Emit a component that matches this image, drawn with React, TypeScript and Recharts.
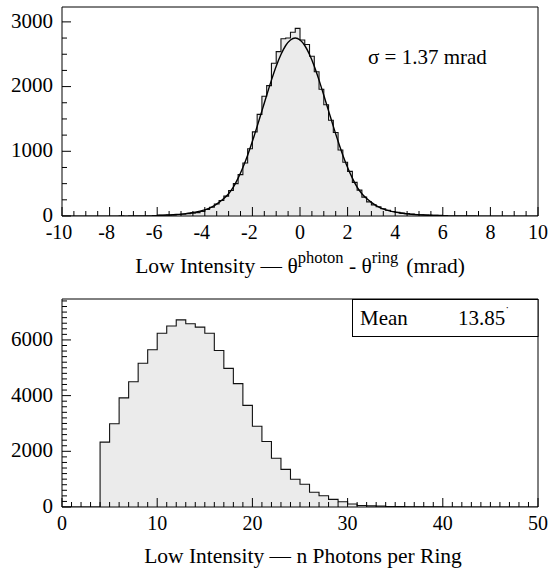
import { Area, ComposedChart, Line, ReferenceArea, XAxis, YAxis } from 'recharts'

const FONT = "'Liberation Serif', 'DejaVu Serif', serif"

// upper panel: theta(photon) - theta(ring), 100 bins of 0.2 mrad from -10
const thetaBinStart = -10
const thetaBinWidth = 0.2
const thetaCounts = [
  0, 0, 0, 0, 0, 0, 0, 0, 1, 0,
  1, 1, 2, 1, 2, 3, 3, 4, 5, 7,
  9, 12, 13, 18, 24, 28, 36, 45, 52, 70,
  100, 135, 185, 240, 307, 395, 500, 640, 820, 1040,
  1300, 1570, 1850, 2015, 2360, 2540, 2740, 2750, 2840, 2900,
  2720, 2650, 2470, 2230, 1960, 1720, 1480, 1290, 1020, 830,
  690, 520, 400, 292, 218, 172, 142, 111, 88, 70,
  56, 45, 36, 30, 24, 20, 16, 12, 10, 8,
  7, 5, 4, 4, 3, 2, 2, 1, 1, 1,
  1, 0, 1, 0, 0, 0, 0, 0, 0, 0,
]

// fitted curve, read every 0.2 mrad from -6 to 6
const fitStart = -6
const fitStep = 0.2
const fitValues = [
  10, 12, 15, 18, 23, 29, 37, 47, 59, 75,
  95, 122, 160, 210, 270, 345, 445, 585, 750, 940,
  1155, 1385, 1625, 1865, 2100, 2315, 2495, 2635, 2720, 2750,
  2720, 2635, 2495, 2315, 2100, 1865, 1625, 1385, 1155, 940,
  750, 585, 445, 345, 270, 210, 160, 122, 95, 75,
  59, 47, 37, 29, 23, 18, 15, 12, 10, 8,
  7,
]

const thetaTickLabels = [-10, -8, -6, -4, -2, 0, 2, 4, 6, 8, 10]
const thetaMinorStep = 0.5
const thetaCountLabels = [0, 1000, 2000, 3000]
const thetaCountMinorStep = 250
const thetaCountMax = 3230

// lower panel: photons per ring, bins of 1 from 0
const photonBinStart = 0
const photonBinWidth = 1
const photonCounts = [
  0, 0, 0, 0, 2330, 2990, 3920, 4500, 5160, 5650,
  6240, 6500, 6720, 6580, 6460, 6240, 5620, 4980, 4430, 3650,
  2900, 2350, 1750, 1350, 995, 815, 530, 405, 275, 190,
  110, 55, 40, 30, 20, 12, 8, 6, 4, 3,
  2, 2, 1, 1, 0, 0, 0, 0, 0, 0,
]

const photonTickLabels = [0, 10, 20, 30, 40, 50]
const photonMinorStep = 1
const photonCountLabels = [0, 2000, 4000, 6000]
const photonCountMinorStep = 200
const photonCountMax = 7470

const sigmaText = 'σ = 1.37 mrad'
const meanLabel = 'Mean'
const meanValue = '13.85'

const r2 = (v: number) => Math.round(v * 100) / 100

function range(from: number, to: number, step: number) {
  const out: number[] = []
  const n = Math.round((to - from) / step)
  for (let i = 0; i <= n; i++) out.push(r2(from + i * step))
  return out
}

const thetaRows = thetaCounts.concat([thetaCounts[thetaCounts.length - 1]]).map((c, i) => {
  const x = r2(thetaBinStart + i * thetaBinWidth)
  const j = Math.round((x - fitStart) / fitStep)
  const onFit = j >= 0 && j < fitValues.length && Math.abs(fitStart + j * fitStep - x) < 1e-6
  return { x, hist: c, fit: onFit ? fitValues[j] : undefined }
})

const photonRows = photonCounts.concat([photonCounts[photonCounts.length - 1]]).map((c, i) => ({
  x: r2(photonBinStart + i * photonBinWidth),
  hist: c,
}))

const X_MARGIN = 8
const Y_MARGIN = 9
const textStyle = { fontFamily: FONT }

function XTick(props: any) {
  const { x, y, payload, labels } = props
  const v = payload.value
  const major = labels.includes(v)
  const axisY = y - X_MARGIN
  return (
    <g>
      <line x1={x} x2={x} y1={axisY} y2={axisY - (major ? 9 : 5)} stroke="#000" strokeWidth={1} />
      {major && (
        <text x={x + (v < 0 ? -3 : 0)} y={axisY + 23} textAnchor="middle" fontSize={20} style={textStyle} fill="#000">
          {v}
        </text>
      )}
    </g>
  )
}

function YTick(props: any) {
  const { x, y, payload, labels } = props
  const v = payload.value
  const major = labels.includes(v)
  const axisX = x + Y_MARGIN
  return (
    <g>
      <line x1={axisX} x2={axisX + (major ? 9 : 5)} y1={y} y2={y} stroke="#000" strokeWidth={1} />
      {major && (
        <text x={axisX - 9} y={y} dy="0.28em" textAnchor="end" fontSize={21} style={textStyle} fill="#000">
          {v}
        </text>
      )}
    </g>
  )
}

export default function App() {
  return (
    <div style={{ position: 'absolute', left: 0, top: 0, width: 549, height: 570, background: '#fff', fontFamily: FONT }}>
      <ComposedChart width={549} height={285} data={thetaRows} margin={{ top: 7, right: 11, bottom: 0, left: 12 }}>
        <XAxis
          type="number"
          dataKey="x"
          domain={[-10, 10]}
          ticks={range(-10, 10, thetaMinorStep)}
          interval={0}
          axisLine={false}
          tickLine={false}
          tickSize={0}
          tickMargin={X_MARGIN}
          height={69}
          allowDataOverflow
          tick={(p: any) => <XTick {...p} labels={thetaTickLabels} />}
        />
        <YAxis
          type="number"
          domain={[0, thetaCountMax]}
          ticks={range(0, 3000, thetaCountMinorStep)}
          interval={0}
          axisLine={false}
          tickLine={false}
          tickSize={0}
          tickMargin={Y_MARGIN}
          width={50}
          allowDataOverflow
          tick={(p: any) => <YTick {...p} labels={thetaCountLabels} />}
        />
        <Area type="stepAfter" dataKey="hist" fill="#ebebeb" fillOpacity={1} stroke="#111" strokeWidth={1.1} dot={false} activeDot={false} isAnimationActive={false} />
        <Line type="monotone" dataKey="fit" stroke="#000" strokeWidth={1.4} dot={false} activeDot={false} isAnimationActive={false} />
        <ReferenceArea x1={-10} x2={10} y1={0} y2={thetaCountMax} fill="none" stroke="#000" strokeWidth={1} />
      </ComposedChart>

      <ComposedChart width={549} height={285} data={photonRows} margin={{ top: 14, right: 11, bottom: 0, left: 12 }}>
        <XAxis
          type="number"
          dataKey="x"
          domain={[0, 50]}
          ticks={range(0, 50, photonMinorStep)}
          interval={0}
          axisLine={false}
          tickLine={false}
          tickSize={0}
          tickMargin={X_MARGIN}
          height={63}
          allowDataOverflow
          tick={(p: any) => <XTick {...p} labels={photonTickLabels} />}
        />
        <YAxis
          type="number"
          domain={[0, photonCountMax]}
          ticks={range(0, 7400, photonCountMinorStep)}
          interval={0}
          axisLine={false}
          tickLine={false}
          tickSize={0}
          tickMargin={Y_MARGIN}
          width={50}
          allowDataOverflow
          tick={(p: any) => <YTick {...p} labels={photonCountLabels} />}
        />
        <Area type="stepAfter" dataKey="hist" fill="#ebebeb" fillOpacity={1} stroke="#111" strokeWidth={1.1} dot={false} activeDot={false} isAnimationActive={false} />
        <ReferenceArea x1={0} x2={50} y1={0} y2={photonCountMax} fill="none" stroke="#000" strokeWidth={1} />
      </ComposedChart>

      <svg width={549} height={570} style={{ position: 'absolute', left: 0, top: 0, pointerEvents: 'none' }}>
        <g style={textStyle} fill="#000">
          <text x={368} y={64} fontSize={21} style={textStyle}>{sigmaText}</text>
          <text x={300} y={273} fontSize={21.5} textAnchor="middle" style={textStyle}>
            Low Intensity — θ<tspan dy={-10} fontSize={16.5}>photon</tspan>
            <tspan dy={10}> - θ</tspan>
            <tspan dy={-10} fontSize={16.5}>ring</tspan>
            <tspan dy={10} dx={8}>(mrad)</tspan>
          </text>
          <text x={303} y={563} fontSize={21.5} textAnchor="middle" style={textStyle}>Low Intensity — n Photons per Ring</text>
          <rect x={352.5} y={299.5} width={185.5} height={37} fill="#fff" stroke="#000" strokeWidth={1} />
          <text x={360} y={325} fontSize={21} style={textStyle}>{meanLabel}</text>
          <text x={458} y={325} fontSize={21} style={textStyle}>{meanValue}<tspan dy={-10} fontSize={12}>˙</tspan></text>
        </g>
      </svg>
    </div>
  )
}
